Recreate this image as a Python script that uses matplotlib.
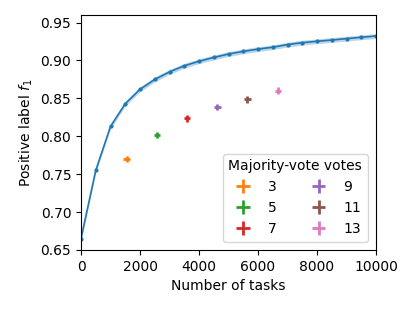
import numpy as np
import matplotlib
matplotlib.use("Agg")
import matplotlib.pyplot as plt

plt.rcParams['font.family'] = 'DejaVu Sans'

# curve: positive label f1 versus number of tasks
tasks = [0, 500, 1000, 1500, 2000, 2500, 3000, 3500, 4000, 4500, 5000,
         5500, 6000, 6500, 7000, 7500, 8000, 8500, 9000, 9500, 10000]
f1 = [0.665, 0.755, 0.813, 0.843, 0.862, 0.875, 0.885, 0.893, 0.899, 0.904, 0.9085,
      0.912, 0.915, 0.9175, 0.921, 0.9235, 0.9253, 0.927, 0.9288, 0.9306, 0.9323]
f1_err = 0.0032

# majority-vote points
votes = [3, 5, 7, 9, 11, 13]
mv_tasks = [1550, 2575, 3600, 4620, 5640, 6670]
mv_f1 = [0.770, 0.8017, 0.8237, 0.8387, 0.8488, 0.8601]
mv_tasks_err = 110
mv_f1_err = 0.0045
colors = ['C1', 'C2', 'C3', 'C4', 'C5', 'C6']

fig = plt.figure(figsize=(4.15, 3.12), dpi=100)
ax = fig.add_axes([81 / 415, 1 - 250 / 312, 295 / 415, 235 / 312])

t = np.array(tasks)
y = np.array(f1)
ax.fill_between(t, y - f1_err, y + f1_err, color='C0', alpha=0.3, lw=0)
ax.plot(t, y, color='C0', marker='.', markersize=4, lw=1.2)

for v, x, f, c in zip(votes, mv_tasks, mv_f1, colors):
    ax.errorbar(x, f, xerr=mv_tasks_err, yerr=mv_f1_err, color=c, fmt='none',
                elinewidth=2, label=str(v))

ax.set_xlim(0, 10000)
ax.set_ylim(0.65, 0.96)
ax.set_xticks([0, 2000, 4000, 6000, 8000, 10000])
ax.set_xlabel("Number of tasks")
ax.set_ylabel("Positive label $f_1$")
ax.legend(title="Majority-vote votes", ncol=2, loc='lower right', title_fontsize=10,
          borderaxespad=0.6)

fig.savefig("out.png", dpi=100)
